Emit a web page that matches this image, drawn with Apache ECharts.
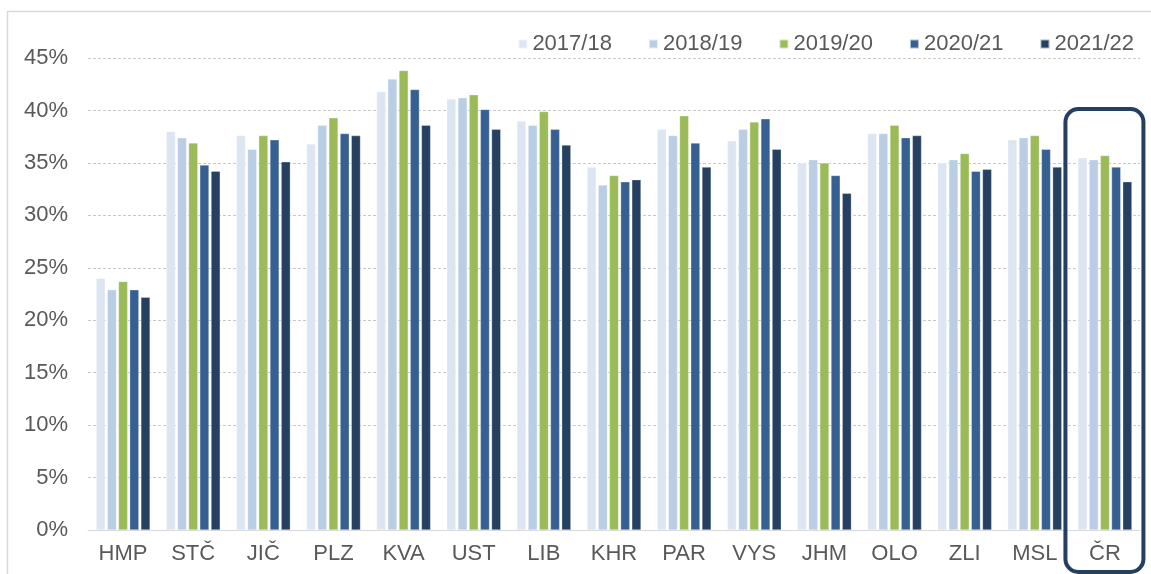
<!DOCTYPE html>
<html>
<head>
<meta charset="utf-8">
<script src="https://cdn.jsdelivr.net/npm/echarts@6/dist/echarts.min.js"></script>
<style>html,body{margin:0;padding:0;background:#fff;}#c{width:1151px;height:574px;}</style>
</head>
<body>
<div id="c"></div>
<script>
const categories = ['HMP','STČ','JIČ','PLZ','KVA','UST','LIB','KHR','PAR','VYS','JHM','OLO','ZLI','MSL','ČR'];
const seriesNames = ['2017/18','2018/19','2019/20','2020/21','2021/22'];
const v2017 = [24.0,38.0,37.6,36.8,41.8,41.1,39.0,34.6,38.2,37.1,35.0,37.8,35.0,37.2,35.5];
const v2018 = [22.9,37.4,36.3,38.6,43.0,41.2,38.6,32.9,37.6,38.2,35.3,37.8,35.3,37.4,35.3];
const v2019 = [23.7,36.9,37.6,39.3,43.8,41.5,39.9,33.8,39.5,38.9,35.0,38.6,35.9,37.6,35.7];
const v2020 = [22.9,34.8,37.2,37.8,42.0,40.1,38.2,33.2,36.9,39.2,33.8,37.4,34.2,36.3,34.6];
const v2021 = [22.2,34.2,35.1,37.6,38.6,38.2,36.7,33.4,34.6,36.3,32.1,37.6,34.4,34.6,33.2];
const yTicks = {min: 0, max: 45, interval: 5};
const colors = ['#DCE6F2','#B9CDE5','#9BBB59','#376092','#254061'];
const values = [v2017, v2018, v2019, v2020, v2021];

const font = 'Liberation Sans, Arial, sans-serif';
const chart = echarts.init(document.getElementById('c'), null, {renderer: 'canvas'});
chart.setOption({
  animation: false,
  backgroundColor: '#fff',
  color: colors,
  legend: {
    data: seriesNames,
    right: 12, top: 28,
    itemWidth: 9, itemHeight: 9, itemGap: 36,
    icon: 'rect',
    textStyle: {fontFamily: font, fontSize: 22, color: '#595959'}
  },
  grid: {left: 88, right: 11, top: 58, bottom: 44, containLabel: false},
  xAxis: {
    type: 'category', data: categories,
    axisLine: {lineStyle: {color: '#d9d9d9', width: 1}},
    axisTick: {show: false},
    axisLabel: {fontFamily: font, fontSize: 22, color: '#595959', margin: 13}
  },
  yAxis: {
    type: 'value', min: yTicks.min, max: yTicks.max, interval: yTicks.interval,
    axisLine: {show: false},
    axisTick: {show: false},
    axisLabel: {fontFamily: font, fontSize: 22, color: '#595959', margin: 20, formatter: '{value}%'},
    splitLine: {lineStyle: {color: '#c8c8c8', type: [3, 2], width: 1}}
  },
  series: seriesNames.map((n, i) => ({
    name: n, type: 'bar', data: values[i],
    barGap: '22%', barCategoryGap: '23%',
    itemStyle: {color: colors[i], borderColor: 'rgba(255,255,255,0.6)', borderWidth: 0.5}
  }))
});

// frame and highlight box around the last category
const cx = chart.convertToPixel({xAxisIndex: 0}, categories[categories.length - 1]);
chart.setOption({
  graphic: [
    {type: 'rect', shape: {x: 7.5, y: 11.5, width: 1200, height: 700}, style: {fill: 'none', stroke: '#d9d9d9', lineWidth: 1.5}, silent: true},
    {type: 'rect', shape: {x: cx - 39.5, y: 109, width: 78, height: 463, r: 13}, style: {fill: 'none', stroke: '#243F60', lineWidth: 4}, silent: true, z: 100}
  ]
});
</script>
</body>
</html>
